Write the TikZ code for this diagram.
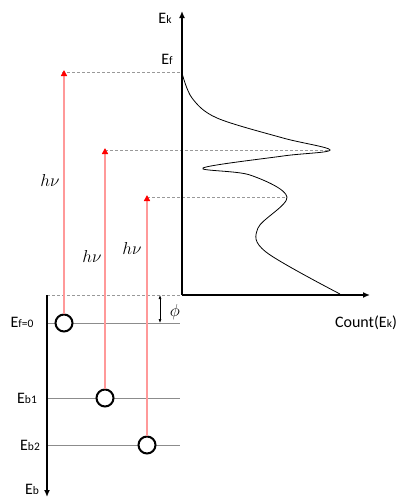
\documentclass[tikz,border=0pt]{standalone}
\usepackage{fontspec}
\setmainfont{Carlito}
\usetikzlibrary{arrows.meta, positioning}

\newcommand{\lowtxt}[1]{{\fontsize{11.5}{11.5}\selectfont #1}}

\begin{document}
\begin{tikzpicture}[
    x=1pt, y=-1pt,
    axis/.style={line width=1.6pt, -{Latex[length=7pt, width=6pt]}},
    level/.style={draw=black!45, line width=0.7pt},
    guide/.style={draw=black!40, densely dashed, line width=0.5pt},
    photon/.style={draw=red!40, line width=1.4pt, -{Triangle[length=6pt, width=6pt, fill=red, color=red]}},
    electron/.style={circle, draw, line width=2pt, fill=white, minimum size=17pt, inner sep=0pt},
    lbl/.style={font=\fontsize{16}{16}\selectfont, inner sep=1pt},
    mlbl/.style={font=\fontsize{18}{18}\selectfont, inner sep=1pt}
]
\useasboundingbox (0,0) rectangle (403,499);

% axes
\coordinate (origin) at (182,295);
\coordinate (ektop) at (182,11);
\coordinate (countend) at (370,295);
\coordinate (ebtop) at (47,295);
\coordinate (ebend) at (47,497);

% guide lines (dashed)
\coordinate (gef) at (62,72);
\coordinate (gefr) at (182,72);
\coordinate (gpk1) at (105,150);
\coordinate (gpk1r) at (330,150);
\coordinate (gpk2) at (147,197);
\coordinate (gpk2r) at (287,197);
\draw[guide] (gef) -- (gefr);
\draw[guide] (gpk1) -- (gpk1r);
\draw[guide] (gpk2) -- (gpk2r);
\draw[guide] (ebtop) -- (origin);

% core levels
\coordinate (lv0l) at (47,323);
\coordinate (lv0r) at (180,323);
\coordinate (lv1l) at (47,398);
\coordinate (lv1r) at (180,398);
\coordinate (lv2l) at (47,445);
\coordinate (lv2r) at (180,445);
\draw[level] (lv0l) -- (lv0r);
\draw[level] (lv1l) -- (lv1r);
\draw[level] (lv2l) -- (lv2r);

% photon arrows
\node[electron] (e0) at (64,323) {};
\node[electron] (e1) at (105,398) {};
\node[electron] (e2) at (147,445) {};
\coordinate (t0) at (64,70);
\coordinate (t1) at (105,148);
\coordinate (t2) at (147,195);
\draw[photon] (e0) -- (t0);
\draw[photon] (e1) -- (t1);
\draw[photon] (e2) -- (t2);

\node[mlbl] (hv0) at (50,180) {$h\nu$};
\node[mlbl] (hv1) at (92,256) {$h\nu$};
\node[mlbl] (hv2) at (132,248) {$h\nu$};

% work function
\coordinate (phitop) at (160,295);
\coordinate (phibot) at (160,323);
\draw[{Latex[length=4pt]}-{Latex[length=4pt]}, line width=0.6pt] (phitop) -- (phibot);
\node[mlbl] (phi) at (175,312) {$\phi$};

% spectrum
\draw[line width=0.8pt] plot[smooth, tension=0.55] coordinates {
    (182,73) (192,98) (217,118) (283,138) (330,150) (283,156) (203,168)
    (250,175) (287,197) (258,228) (266,252) (340,294)};

\draw[axis] (origin) -- (ektop);
\draw[axis] (origin) -- (countend);
\draw[axis] (ebtop) -- (ebend);

% labels
\node[lbl] (ek) at (165,18) {E\lowtxt{k}};
\node[lbl] (ef) at (167,59) {E\lowtxt{f}};
\node[lbl] (count) at (366,323) {Count(E\lowtxt{k})};
\node[lbl] (ef0) at (22,322) {E\lowtxt{f=0}};
\node[lbl] (eb1) at (27,398) {E\lowtxt{b1}};
\node[lbl] (eb2) at (30,445) {E\lowtxt{b2}};
\node[lbl, anchor=south, inner sep=0pt] (eb) at (32,495) {E\lowtxt{b}};
\end{tikzpicture}
\end{document}
